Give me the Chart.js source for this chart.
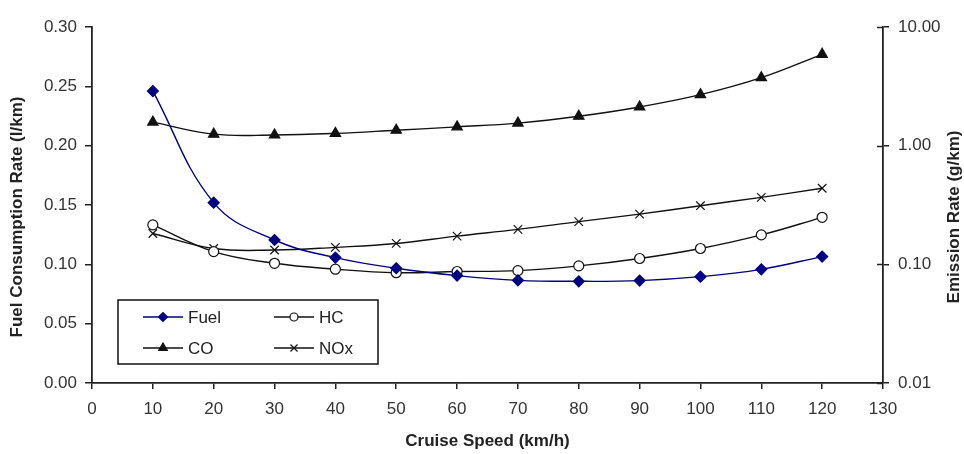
<!DOCTYPE html>
<html>
<head>
<meta charset="utf-8">
<script src="https://cdn.jsdelivr.net/npm/chart.js@4/dist/chart.umd.min.js"></script>
<style>
  html, body { margin: 0; padding: 0; background: #fff; }
  #wrap { width: 964px; height: 454px; }
</style>
</head>
<body>
<div id="wrap"><canvas id="emissionChart"></canvas></div>
<script>
// data
const speeds = [10, 20, 30, 40, 50, 60, 70, 80, 90, 100, 110, 120];
const fuel = [0.246, 0.152, 0.1205, 0.1057, 0.0967, 0.0905, 0.0865, 0.0857, 0.0863, 0.0896, 0.0958, 0.1065];
const hc = [0.215, 0.128, 0.102, 0.091, 0.085, 0.087, 0.0885, 0.097, 0.112, 0.136, 0.177, 0.249];
const co = [1.58, 1.25, 1.23, 1.27, 1.35, 1.44, 1.55, 1.77, 2.12, 2.69, 3.74, 5.89];
const nox = [0.182, 0.136, 0.132, 0.139, 0.150, 0.173, 0.197, 0.229, 0.265, 0.312, 0.367, 0.438];
const emissionTicks = [0.01, 0.1, 1, 10];

const FONT = "'Liberation Sans', Arial, sans-serif";
const AXIS = '#222';
const NAVY = '#000080';

const toPoints = (arr) => arr.map((v, i) => ({ x: speeds[i], y: v }));

function makeSeries(label, data, axis, color, style, radius, fill) {
  return {
    label: label,
    data: toPoints(data),
    yAxisID: axis,
    borderColor: color,
    borderWidth: 1.4,
    backgroundColor: fill,
    pointStyle: style,
    pointRadius: radius,
    pointBorderColor: color,
    pointBackgroundColor: fill,
    pointBorderWidth: 1.2,
    tension: 0.4,
    fill: false
  };
}

// legend box inside the plot + vertical axis titles (both read bottom to top)
const boxLegend = {
  id: 'boxLegend',
  afterDraw(chart) {
    const ctx = chart.ctx;
    const ds = chart.data.datasets;
    const box = { x: 118, y: 300, w: 260, h: 64 };
    ctx.save();
    ctx.strokeStyle = '#111';
    ctx.lineWidth = 1.5;
    ctx.strokeRect(box.x, box.y, box.w, box.h);
    const cols = [143, 274];
    const rows = [317, 348];
    ds.forEach((d, k) => {
      const x0 = cols[k % 2];
      const y = rows[Math.floor(k / 2)];
      ctx.strokeStyle = d.borderColor;
      ctx.lineWidth = 1.3;
      ctx.beginPath();
      ctx.moveTo(x0, y);
      ctx.lineTo(x0 + 40, y);
      ctx.stroke();
      ctx.fillStyle = d.pointBackgroundColor;
      ctx.strokeStyle = d.pointBorderColor;
      ctx.lineWidth = 1.2;
      Chart.helpers.drawPoint(ctx, { pointStyle: d.pointStyle, radius: d.pointRadius - 1, rotation: 0, borderWidth: 1.2 }, x0 + 20, y);
      ctx.fillStyle = '#222';
      ctx.font = '17px ' + FONT;
      ctx.textBaseline = 'middle';
      ctx.fillText(d.label, x0 + 45, y + 1);
    });

    // right axis ticks cross the axis line
    const y2 = chart.scales.y2;
    ctx.strokeStyle = AXIS;
    ctx.lineWidth = 1.5;
    emissionTicks.forEach(v => {
      const py = Math.round(y2.getPixelForValue(v)) + 0.5;
      ctx.beginPath();
      ctx.moveTo(y2.left - 6, py);
      ctx.lineTo(y2.left, py);
      ctx.stroke();
    });

    ctx.fillStyle = '#222';
    ctx.font = 'bold 17px ' + FONT;
    ctx.textAlign = 'center';
    ctx.textBaseline = 'middle';
    [['Fuel Consumption Rate (l/km)', 17], ['Emission Rate (g/km)', 954]].forEach(([text, x]) => {
      ctx.save();
      ctx.translate(x, 217);
      ctx.rotate(-Math.PI / 2);
      ctx.fillText(text, 0, 0);
      ctx.restore();
    });
    ctx.restore();
  }
};

const tickFont = { family: FONT, size: 17 };
const titleFont = { family: FONT, size: 17, weight: 'bold' };

new Chart(document.getElementById('emissionChart'), {
  type: 'line',
  data: {
    datasets: [
      makeSeries('Fuel', fuel, 'y', NAVY, 'rectRot', 5.5, NAVY),
      makeSeries('HC', hc, 'y2', '#111', 'circle', 5, '#fff'),
      makeSeries('CO', co, 'y2', '#111', 'triangle', 6, '#111'),
      makeSeries('NOx', nox, 'y2', '#111', 'crossRot', 6, '#111')
    ]
  },
  options: {
    responsive: true,
    maintainAspectRatio: false,
    animation: false,
    layout: { padding: { top: 27, left: 0, right: 0, bottom: 0 } },
    plugins: {
      legend: { display: false },
      tooltip: { enabled: false }
    },
    scales: {
      x: {
        type: 'linear',
        min: 0,
        max: 130,
        ticks: { stepSize: 10, font: tickFont, color: '#333', padding: 10, maxRotation: 0 },
        grid: { display: true, drawOnChartArea: false, drawTicks: true, tickLength: 6, color: AXIS, lineWidth: 1.5 },
        border: { color: AXIS, width: 1.8 },
        title: { display: true, text: 'Cruise Speed (km/h)', font: titleFont, color: '#222', padding: { top: 0, bottom: 2 } },
        afterFit(scale) { scale.height = 71; }
      },
      y: {
        position: 'left',
        min: 0,
        max: 0.30,
        ticks: { stepSize: 0.05, font: tickFont, color: '#333', padding: 8, callback: (v) => v.toFixed(2) },
        grid: { display: true, drawOnChartArea: false, drawTicks: true, tickLength: 7, color: AXIS, lineWidth: 1.5 },
        border: { color: AXIS, width: 1.8 },
        afterFit(scale) { scale.width = 92; }
      },
      y2: {
        type: 'logarithmic',
        position: 'right',
        min: 0.01,
        max: 10,
        afterBuildTicks(scale) { scale.ticks = emissionTicks.map(v => ({ value: v })); },
        ticks: { font: tickFont, color: '#333', padding: 9, callback: (v) => Number(v).toFixed(2) },
        grid: { display: true, drawOnChartArea: false, drawTicks: true, tickLength: 6, color: AXIS, lineWidth: 1.5 },
        border: { color: AXIS, width: 1.8 },
        afterFit(scale) { scale.width = 81; }
      }
    }
  },
  plugins: [boxLegend]
});
</script>
</body>
</html>
